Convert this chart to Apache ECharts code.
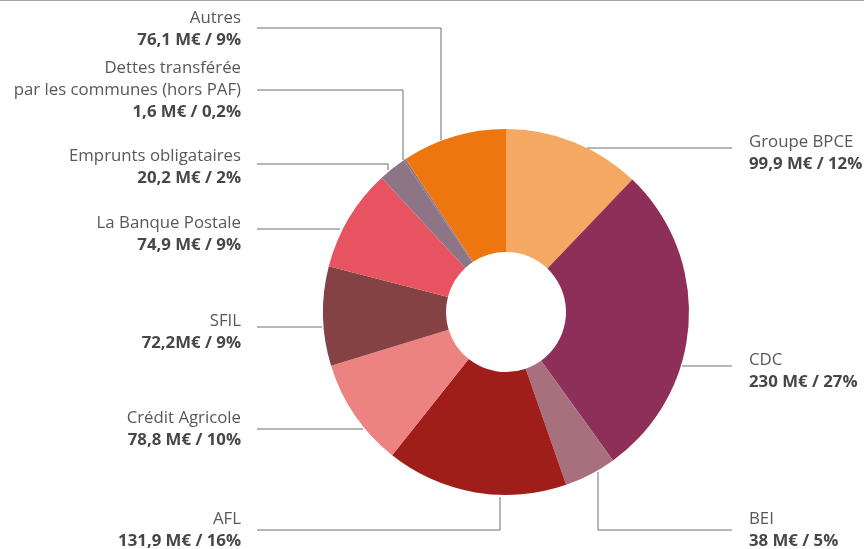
<!DOCTYPE html>
<html><head><meta charset="utf-8">
<script src="https://cdn.jsdelivr.net/npm/echarts@6/dist/echarts.min.js"></script>
<style>html,body{margin:0;padding:0;background:#fff}#c{width:864px;height:549px}</style>
</head><body><div id="c"></div>
<script>
// Data
const names = ['Groupe BPCE','CDC','BEI','AFL','Crédit Agricole','SFIL','La Banque Postale','Emprunts obligataires','Dettes transférée\npar les communes (hors PAF)','Autres'];
const values = [99.9, 230, 38, 131.9, 78.8, 72.2, 74.9, 20.2, 1.6, 76.1];
const valueTexts = ['99,9 M€ / 12%','230 M€ / 27%','38 M€ / 5%','131,9 M€ / 16%','78,8 M€ / 10%','72,2M€ / 9%','74,9 M€ / 9%','20,2 M€ / 2%','1,6 M€ / 0,2%','76,1 M€ / 9%'];
const colors = ['#F5A862','#8E2F5A','#A8707C','#A01E1A','#EC8380','#854244','#E75360','#8E7586','#8E7586','#EE760F'];

// Layout (label anchor and leader line points)
const labelAnchors = [
  [749,153,'left'],[749,371,'left'],[749,530,'left'],
  [241,530,'right'],[241,429,'right'],[241,332,'right'],[241,234,'right'],
  [241,167,'right'],[241,90,'right'],[241,29,'right']
];
const leaders = [
  [[587,148],[660,148],[732,148]],
  [[682,366],[700,366],[732,366]],
  [[598,472],[598,530],[732,530]],
  [[500,497],[500,530],[257,530]],
  [[363,429],[300,429],[257,429]],
  [[322,327],[290,327],[257,327]],
  [[340,229],[300,229],[257,229]],
  [[388,170],[388,164],[257,164]],
  [[403,160],[403,90],[257,90]],
  [[441,140],[441,28],[257,28]]
];

const chart = echarts.init(document.getElementById('c'));
const FONT = '"Open Sans", sans-serif';
chart.setOption({
  animation: false,
  graphic: [{type:'rect', shape:{x:0,y:0,width:864,height:1}, style:{fill:'#a3a3a3'}}],
  series: [{
    type: 'pie',
    center: [506, 312],
    radius: [60, 183],
    startAngle: 90,
    clockwise: true,
    avoidLabelOverlap: false,
    itemStyle: { borderWidth: 0 },
    emphasis: { disabled: true },
    label: {
      show: true,
      position: 'outside',
      formatter: p => p.name.split('\n').map(s => '{n|' + s + '}').join('\n') + '\n{v|' + valueTexts[p.dataIndex] + '}',
      rich: {
        n: { fontFamily: FONT, fontSize: 16.8, color: '#585858', lineHeight: 22 },
        v: { fontFamily: FONT, fontSize: 16.8, fontWeight: 'bold', color: '#474747', lineHeight: 22 }
      }
    },
    labelLine: { show: true, lineStyle: { color: '#6e6e6e', width: 1 } },
    labelLayout: function (params) {
      const a = labelAnchors[params.dataIndex];
      return { x: a[0], y: a[1], align: a[2], verticalAlign: 'middle', labelLinePoints: leaders[params.dataIndex] };
    },
    data: names.map((n, i) => ({ name: n, value: values[i], itemStyle: { color: colors[i] } }))
  }]
});
</script></body></html>
